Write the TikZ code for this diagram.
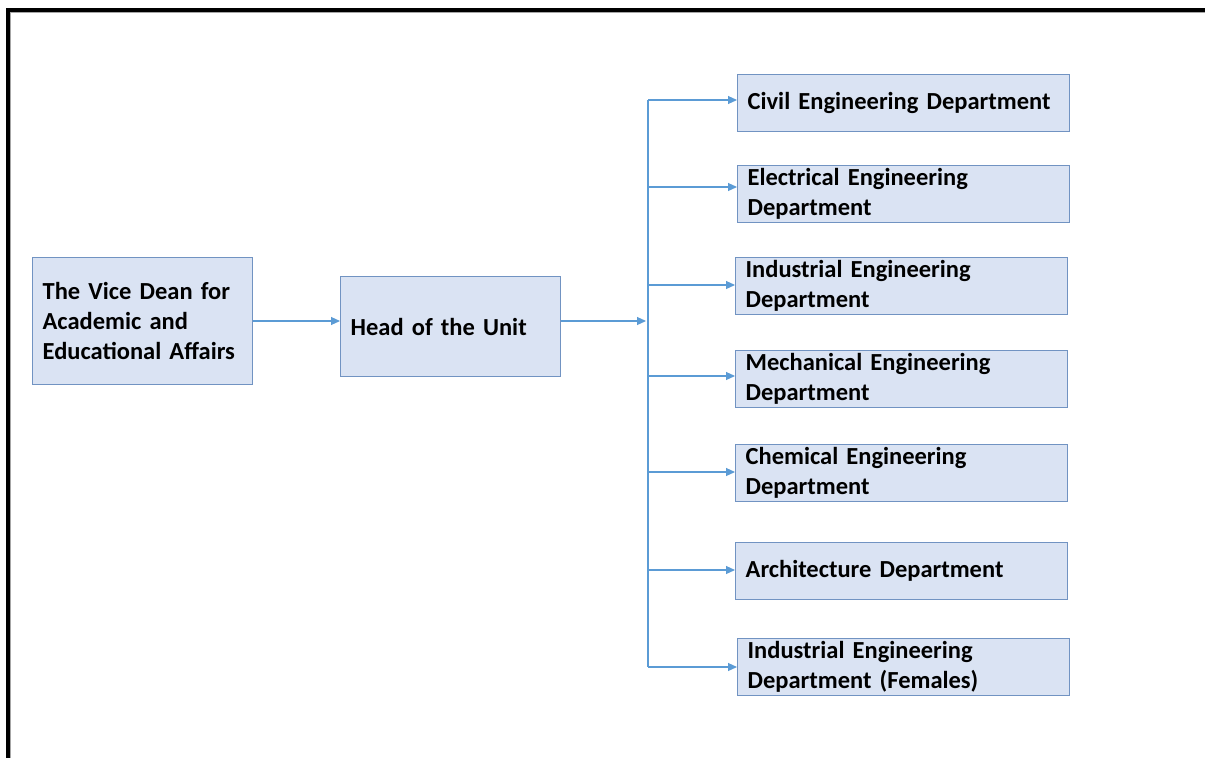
\documentclass[tikz,border=0pt]{standalone}
\usepackage{fontspec}
\setmainfont{Carlito}[WordSpace=0.85]
\usetikzlibrary{arrows.meta}
\definecolor{boxfill}{HTML}{DAE3F3}
\definecolor{boxborder}{HTML}{7193C2}
\definecolor{linkblue}{HTML}{5B9BD5}
\begin{document}
\begin{tikzpicture}[x=1pt,y=-1pt,
  box/.style={draw=boxborder, fill=boxfill, line width=1.3pt, anchor=north west,
    align=left, inner xsep=10pt, inner ysep=0pt, minimum height=57pt,
    text width=#1, font=\fontsize{24.5}{30}\selectfont\bfseries},
  box/.default=312pt,
  link/.style={draw=linkblue, line width=1.1pt},
  arr/.style={link, -{Triangle[length=9pt,width=8pt]}}]
\useasboundingbox (0,0) rectangle (1205,758);
\fill[white] (0,0) rectangle (1205,758);
% frame
\fill[black] (6,8) rectangle (1205,12);
\fill[black] (6,8) rectangle (10,758);
\draw[gray!70, line width=0.8pt] (10.4,758) -- (10.4,12.4) -- (1205,12.4);
% nodes
\node[box=200pt, minimum height=127pt] (vice) at (32,257) {The Vice Dean for\\Academic and\\Educational Affairs};
\node[box=200pt, minimum height=100pt] (head) at (340,276) {Head of the Unit};
\node[box] (d1) at (737,74) {Civil Engineering Department};
\node[box] (d2) at (737,165) {Electrical Engineering\\Department};
\node[box] (d3) at (735,257) {Industrial Engineering\\Department};
\node[box] (d4) at (735,350) {Mechanical Engineering\\Department};
\node[box] (d5) at (735,444) {Chemical Engineering\\Department};
\node[box] (d6) at (735,542) {Architecture Department};
\node[box] (d7) at (737,638) {Industrial Engineering\\Department (Females)};
% connectors
\coordinate (jn) at (646,321);
\coordinate (b1) at (648,100);
\coordinate (b2) at (648,187);
\coordinate (b3) at (648,285);
\coordinate (b4) at (648,376);
\coordinate (b5) at (648,472);
\coordinate (b6) at (648,570);
\coordinate (b7) at (648,667);
\draw[arr] (vice.east |- jn) -- (head.west |- jn);
\draw[arr] (head.east |- jn) -- (jn);
\draw[link] (b1) -- (b7);
\foreach \i in {1,...,7}
  \draw[arr] (b\i) -- (b\i -| d\i.west);
\end{tikzpicture}
\end{document}
